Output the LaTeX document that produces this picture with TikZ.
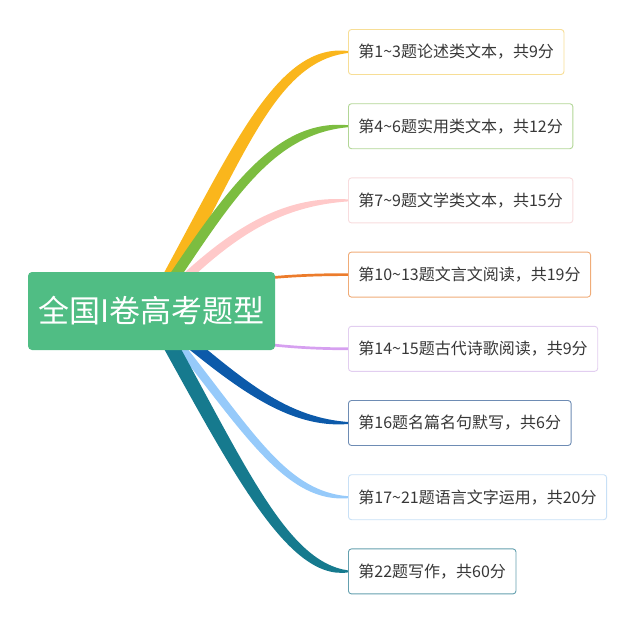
\documentclass[tikz,border=0pt]{standalone}
\usepackage{fontspec}
\setmainfont{Noto Sans CJK SC}
\usetikzlibrary{positioning,calc,backgrounds}
\definecolor{rootgreen}{RGB}{80,189,132}
\definecolor{textgray}{RGB}{55,55,55}
\definecolor{yellowbranch}{RGB}{250,182,28}
\definecolor{yellowline}{RGB}{247,222,150}
\definecolor{greenbranch}{RGB}{124,189,64}
\definecolor{greenline}{RGB}{178,214,150}
\definecolor{pinkbranch}{RGB}{255,201,201}
\definecolor{pinkline}{RGB}{248,220,222}
\definecolor{orangebranch}{RGB}{236,124,44}
\definecolor{orangeline}{RGB}{240,172,120}
\definecolor{purplebranch}{RGB}{214,160,240}
\definecolor{purpleline}{RGB}{226,206,240}
\definecolor{bluebranch}{RGB}{12,90,170}
\definecolor{blueline}{RGB}{110,140,180}
\definecolor{skybranch}{RGB}{150,202,250}
\definecolor{skyline}{RGB}{200,224,246}
\definecolor{tealbranch}{RGB}{22,122,142}
\definecolor{tealline}{RGB}{100,160,175}
\tikzset{
  topic/.style={
    rectangle,
    rounded corners=4pt,
    fill=rootgreen,
    text=white,
    minimum width=247pt,
    minimum height=78pt,
    inner sep=0pt,
    font=\fontsize{31}{31}\selectfont
  },
  leaf/.style={
    rectangle,
    rounded corners=3pt,
    fill=white,
    line width=0.9pt,
    text=textgray,
    minimum height=45pt,
    inner xsep=10pt,
    inner ysep=0pt,
    font=\fontsize{16}{16}\selectfont
  },
  twig/.style={line width=2.7pt, line cap=round}
}

\begin{document}
\begin{tikzpicture}[x=1pt, y=-1pt, node distance=28.3pt]
    \useasboundingbox (0,0) rectangle (640,627);
    \node[topic] (root) at (151.5,311) {全国I卷高考题型};

    \node[leaf, draw=yellowline, anchor=west] (t1) at (348,52) {第1\textasciitilde3题论述类文本，共9分};
    \node[leaf, draw=greenline, below=of t1.south west, anchor=north west] (t2) {第4\textasciitilde6题实用类文本，共12分};
    \node[leaf, draw=pinkline, below=of t2.south west, anchor=north west] (t3) {第7\textasciitilde9题文学类文本，共15分};
    \node[leaf, draw=orangeline, below=of t3.south west, anchor=north west] (t4) {第10\textasciitilde13题文言文阅读，共19分};
    \node[leaf, draw=purpleline, below=of t4.south west, anchor=north west] (t5) {第14\textasciitilde15题古代诗歌阅读，共9分};
    \node[leaf, draw=blueline, below=of t5.south west, anchor=north west] (t6) {第16题名篇名句默写，共6分};
    \node[leaf, draw=skyline, below=of t6.south west, anchor=north west] (t7) {第17\textasciitilde21题语言文字运用，共20分};
    \node[leaf, draw=tealline, below=of t7.south west, anchor=north west] (t8) {第22题写作，共60分};

    % tapered branches behind the nodes
    \begin{scope}[on background layer]
      \foreach \col/\leaf/\a/\b/\c/\h/\k/\s in {
          yellowbranch/t1/84/-150/75/8.5/9/-1,
          greenbranch/t2/72/-107/79/6.5/7.5/-1,
          pinkbranch/t3/63/-64/79/6.5/5.5/-1,
          bluebranch/t6/78/64/68/9/5.5/1,
          skybranch/t7/90/108/68/5.5/5.5/1,
          tealbranch/t8/84/150/63/8.5/9/1}
      {
        \fill[\col] ($(root.center)+(-\h,0)$)
          .. controls ($(root.center)+({\a-\h},\b)$) and ($(\leaf.west)+(-\c,{(\s)*(\k+1)})$)
          .. ($(\leaf.west)+(0,\s)$) -- ($(\leaf.west)+(0,{-(\s)})$)
          .. controls ($(\leaf.west)+(-\c,{-(\s)*(\k+1)})$) and ($(root.center)+({\a+\h},\b)$)
          .. ($(root.center)+(\h,0)$) -- cycle;
      }
      \draw[twig, orangebranch] (root.center) .. controls +(48,-31) and +(-68,0) .. (t4.west);
      \draw[twig, purplebranch] (root.center) .. controls +(48,29) and +(-68,0) .. (t5.west);
    \end{scope}
\end{tikzpicture}
\end{document}
